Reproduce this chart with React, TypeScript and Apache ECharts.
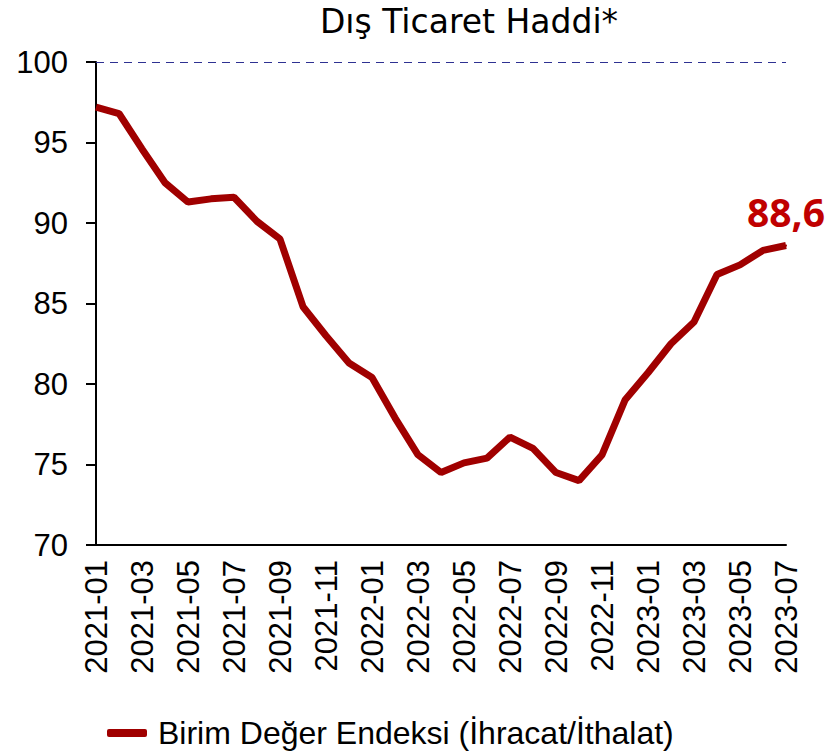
import React, { useEffect, useRef } from "react";
import * as echarts from "echarts";

const categories = [
  "2021-01", "2021-02", "2021-03", "2021-04", "2021-05", "2021-06", "2021-07", "2021-08",
  "2021-09", "2021-10", "2021-11", "2021-12", "2022-01", "2022-02", "2022-03", "2022-04",
  "2022-05", "2022-06", "2022-07", "2022-08", "2022-09", "2022-10", "2022-11", "2022-12",
  "2023-01", "2023-02", "2023-03", "2023-04", "2023-05", "2023-06", "2023-07",
];

const values = [
  97.2, 96.8, 94.6, 92.5, 91.3, 91.5, 91.6, 90.1, 89.0, 84.8, 83.0, 81.3, 80.4, 77.9, 75.6, 74.5,
  75.1, 75.4, 76.7, 76.0, 74.5, 74.0, 75.6, 79.0, 80.7, 82.5, 83.85, 86.8, 87.4, 88.3, 88.6,
];

const seriesName = "Birim Değer Endeksi (İhracat/İthalat)";
const titleText = "Dış Ticaret Haddi*";
const lastLabel = "88,6";

export default function App() {
  const ref = useRef<HTMLDivElement>(null);

  useEffect(() => {
    document.body.style.margin = "0";
    if (!ref.current) return;
    const chart = echarts.init(ref.current, null, { renderer: "svg" });
    const data = values.map((v, i) =>
      i === values.length - 1
        ? {
            value: v,
            symbol: "circle",
            symbolSize: 2,
            label: {
              show: true,
              position: "top",
              distance: 14,
              formatter: lastLabel,
              color: "#C00000",
              fontFamily: "Noto Sans",
              fontWeight: "bold",
              fontSize: 39,
            },
          }
        : { value: v, symbol: "none" }
    );
    chart.setOption({
      animation: false,
      backgroundColor: "#ffffff",
      title: {
        text: titleText,
        left: 464,
        top: 0,
        textAlign: "center",
        textStyle: {
          fontFamily: "DejaVu Sans",
          fontWeight: "normal",
          fontSize: 33,
          color: "#000000",
        },
      },
      legend: {
        left: 107,
        top: 717,
        padding: 0,
        icon: "roundRect",
        itemWidth: 40,
        itemHeight: 8,
        textStyle: {
          fontFamily: "Liberation Sans",
          fontSize: 32,
          color: "#000000",
          padding: [0, 0, 0, 6],
        },
        data: [{ name: seriesName, itemStyle: { color: "#A00000" } }],
      },
      grid: { left: 96, right: 53, top: 62, bottom: 206, containLabel: false },
      xAxis: {
        type: "category",
        data: categories,
        boundaryGap: false,
        axisLine: { show: true, lineStyle: { color: "#000000", width: 2 } },
        axisTick: { show: false },
        axisLabel: {
          interval: 1,
          rotate: 90,
          margin: 15,
          fontFamily: "Liberation Sans",
          fontSize: 31,
          color: "#000000",
        },
        splitLine: { show: false },
      },
      yAxis: {
        type: "value",
        min: 70,
        max: 100,
        interval: 5,
        axisLine: { show: true, lineStyle: { color: "#000000", width: 2 } },
        axisTick: { show: true, inside: false, length: 10, lineStyle: { color: "#000000", width: 2 } },
        axisLabel: {
          margin: 28,
          fontFamily: "Liberation Sans",
          fontSize: 31,
          color: "#000000",
        },
        splitLine: { show: false },
      },
      series: [
        {
          name: seriesName,
          type: "line",
          data,
          showSymbol: true,
          symbol: "none",
          lineStyle: { color: "#A00000", width: 7 },
          itemStyle: { color: "#A00000" },
          markLine: {
            silent: true,
            symbol: "none",
            label: { show: false },
            lineStyle: { color: "#2E3192", width: 1, type: [8, 6] },
            data: [{ yAxis: 100 }],
          },
        },
      ],
    });
    return () => chart.dispose();
  }, []);

  return <div ref={ref} style={{ width: 839, height: 751 }} />;
}
